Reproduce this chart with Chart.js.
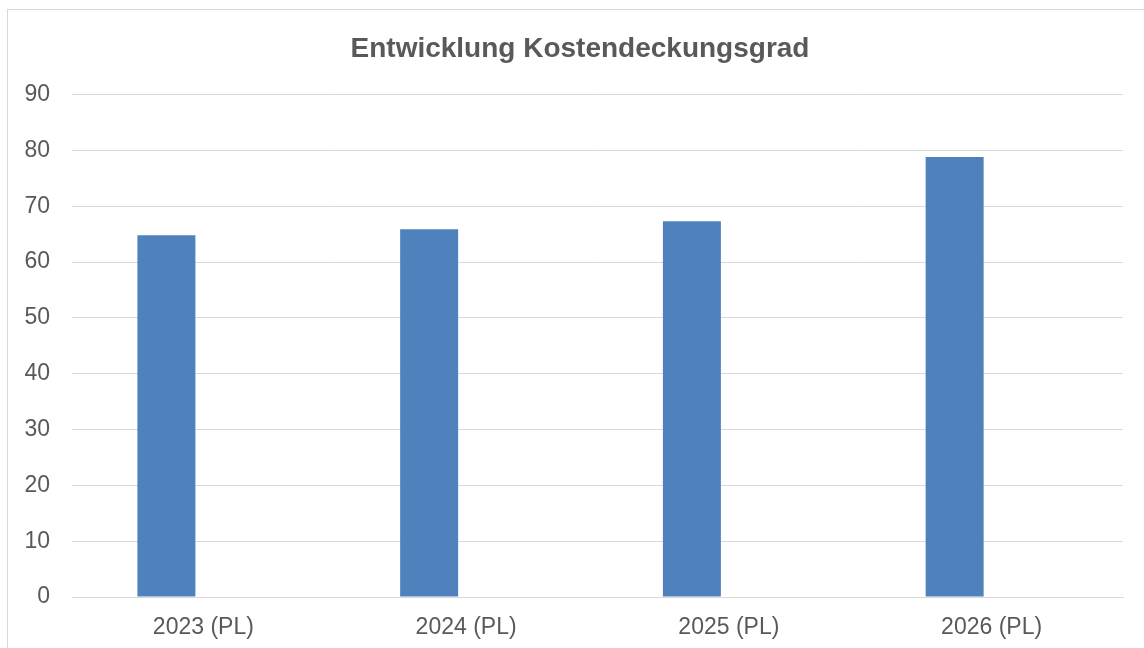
<!DOCTYPE html>
<html>
<head>
<meta charset="utf-8">
<script src="https://cdn.jsdelivr.net/npm/chart.js@4"></script>
<style>
  html, body { margin: 0; padding: 0; background: #fff; }
  #wrap { position: relative; width: 1144px; height: 648px; }
</style>
</head>
<body>
<div id="wrap"><canvas id="chart"></canvas></div>
<script>
const labels = ['2023 (PL)', '2024 (PL)', '2025 (PL)', '2026 (PL)'];
const kostendeckung = [64.8, 65.9, 67.3, 78.8];
const leer = [null, null, null, null];

const textColor = '#595959';
const gridColor = '#d9d9d9';

// outer frame like the spreadsheet chart box, title centred on that frame
const framePlugin = {
  id: 'frame',
  afterLayout(chart) {
    if (chart.titleBlock) chart.titleBlock.left = 37;
  },
  beforeDraw(chart) {
    const ctx = chart.ctx;
    ctx.save();
    ctx.strokeStyle = gridColor;
    ctx.lineWidth = 1;
    ctx.strokeRect(7.5, 9.5, 1150, 650);
    ctx.restore();
  },
};

const config = {
  type: 'bar',
  data: {
    labels: labels,
    datasets: [
      {
        label: 'Kostendeckungsgrad',
        data: kostendeckung,
        backgroundColor: '#4f81bd',
        borderWidth: 0,
        categoryPercentage: 0.563,
        barPercentage: 0.784,
      },
      {
        label: '',
        data: leer,
        backgroundColor: '#c0504d',
        categoryPercentage: 0.563,
        barPercentage: 0.784,
      },
    ],
  },
  options: {
    responsive: true,
    maintainAspectRatio: false,
    animation: false,
    layout: {
      padding: { left: 0, right: 21, top: 0, bottom: 0 },
    },
    plugins: {
      legend: { display: false },
      tooltip: { enabled: false },
      title: {
        display: true,
        text: 'Entwicklung Kostendeckungsgrad',
        color: textColor,
        font: { family: 'Liberation Sans, Arial', size: 28, weight: 'bold' },
        padding: { top: 32, bottom: 29 },
      },
    },
    scales: {
      x: {
        grid: { display: false, drawTicks: false },
        border: { color: gridColor, width: 1 },
        ticks: {
          color: textColor,
          padding: 17,
          font: { family: 'Liberation Sans, Arial', size: 23 },
        },
        afterFit(scale) { scale.height = 51; },
      },
      y: {
        min: 0,
        max: 90,
        ticks: {
          stepSize: 10,
          color: textColor,
          padding: 22,
          font: { family: 'Liberation Sans, Arial', size: 23 },
        },
        grid: { color: gridColor, lineWidth: 1, drawTicks: false },
        border: { display: false },
        afterFit(scale) { scale.width = 72; },
      },
    },
  },
  plugins: [framePlugin],
};

new Chart(document.getElementById('chart'), config);
</script>
</body>
</html>
